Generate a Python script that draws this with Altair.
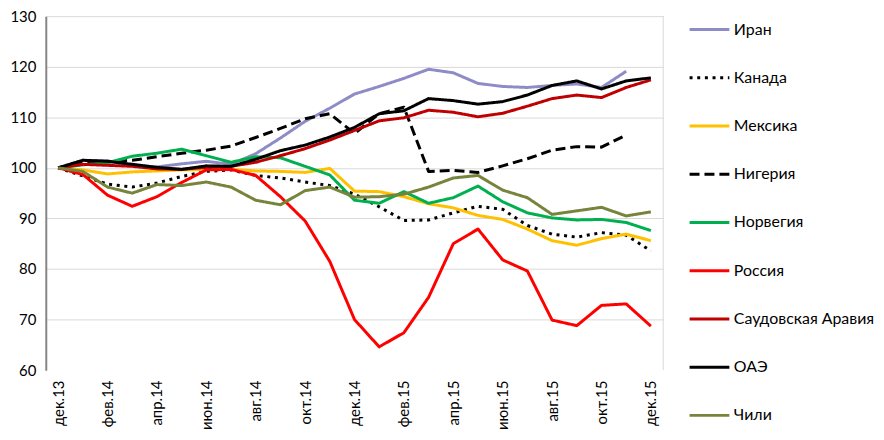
import altair as alt
import pandas as pd

months = ["дек.13", "янв.14", "фев.14", "мар.14", "апр.14", "май.14", "июн.14",
          "июл.14", "авг.14", "сен.14", "окт.14", "ноя.14", "дек.14", "янв.15",
          "фев.15", "мар.15", "апр.15", "май.15", "июн.15", "июл.15", "авг.15",
          "сен.15", "окт.15", "ноя.15", "дек.15"]
tick_labels = ["дек.13", "фев.14", "апр.14", "июн.14", "авг.14", "окт.14", "дек.14",
               "фев.15", "апр.15", "июн.15", "авг.15", "окт.15", "дек.15"]

series = ["Иран", "Канада", "Мексика", "Нигерия", "Норвегия", "Россия",
          "Саудовская Аравия", "ОАЭ", "Чили"]

iran = [100, 101.5, 101.4, 100.5, 100.2, 100.8, 101.3, 100.7, 102.8, 105.9, 109.2, 111.8,
        114.6, 116.1, 117.7, 119.5, 118.8, 116.7, 116.1, 115.9, 116.3, 116.6, 115.9, 119.1, None]
canada = [100, 98.4, 96.8, 96.2, 97.0, 98.3, 99.3, 99.6, 98.5, 98.0, 97.2, 96.5,
          94.8, 92.3, 89.6, 89.7, 91.1, 92.4, 91.8, 88.6, 86.9, 86.3, 87.2, 86.7, 83.6]
mexico = [100, 99.6, 98.8, 99.2, 99.4, 99.6, 99.7, 99.7, 99.4, 99.3, 99.1, 99.9,
          95.4, 95.3, 94.3, 92.9, 92.1, 90.6, 89.8, 87.9, 85.6, 84.7, 86.0, 86.9, 85.6]
nigeria = [100, 101.1, 101.2, 101.5, 102.2, 102.9, 103.5, 104.3, 106.0, 107.8, 109.7, 110.7,
           106.8, 110.7, 112.0, 99.3, 99.5, 99.1, 100.4, 101.8, 103.5, 104.2, 104.1, 106.5, None]
norway = [100, 100.6, 101.0, 102.3, 102.9, 103.7, 102.4, 101.1, 102.2, 102.0, 100.3, 98.6,
          93.6, 93.0, 95.3, 93.0, 94.1, 96.4, 93.3, 91.1, 90.1, 89.7, 89.8, 89.2, 87.6]
russia = [100, 98.7, 94.6, 92.4, 94.3, 97.1, 99.6, 99.7, 98.5, 94.3, 89.5, 81.5,
          70.0, 64.6, 67.4, 74.4, 85.0, 87.9, 81.8, 79.6, 69.9, 68.8, 72.8, 73.1, 68.7]
saudi = [100, 100.7, 100.5, 100.3, 99.8, 99.7, 100.1, 100.3, 101.1, 102.4, 103.8, 105.5,
         107.4, 109.3, 109.9, 111.4, 111.0, 110.1, 110.8, 112.2, 113.7, 114.4, 113.9, 115.9, 117.4]
uae = [100, 101.5, 101.3, 100.7, 100.1, 99.7, 100.4, 100.3, 101.7, 103.4, 104.5, 106.1,
       108.0, 110.7, 111.3, 113.7, 113.3, 112.6, 113.1, 114.4, 116.3, 117.2, 115.6, 117.2, 117.8]
chile = [100, 99.3, 96.2, 95.0, 96.7, 96.5, 97.2, 96.2, 93.6, 92.7, 95.5, 96.2,
         94.2, 94.3, 94.8, 96.2, 98.0, 98.5, 95.6, 94.1, 90.8, 91.5, 92.2, 90.5, 91.3]

values = [iran, canada, mexico, nigeria, norway, russia, saudi, uae, chile]
colors = ["#8E8CC6", "#000000", "#FFC000", "#000000", "#00B050", "#FF0000",
          "#C00000", "#000000", "#76843C"]
dashes = [[1, 0], [3, 4.7], [1, 0], [10, 5], [1, 0], [1, 0], [1, 0], [1, 0], [1, 0]]

rows = []
for s, vals in zip(series, values):
    for m, v in zip(months, vals):
        if v is not None:
            rows.append({"month": m, "series": s, "value": v})
df = pd.DataFrame(rows)

W, H = 621, 356

x_enc = alt.X("month:O", sort=months, title=None,
              axis=alt.Axis(values=tick_labels, labelAngle=270, ticks=False, tickSize=0,
                            domain=False, grid=False, labelPadding=10,
                            labelFontSize=15, labelColor="#000000"))
y_enc = alt.Y("value:Q", title=None,
              scale=alt.Scale(domain=[60, 130], nice=False, zero=False),
              axis=alt.Axis(values=[60, 70, 80, 90, 100, 110, 120, 130], ticks=False, tickSize=0,
                            labelPadding=10, labelFontSize=15, labelColor="#000000",
                            domainColor="#868686", domainWidth=2,
                            grid=True, gridWidth=1,
                            gridColor={"condition": {"test": "datum.value === 60", "value": "transparent"},
                                       "value": "#D9D9D9"}))
legend = alt.Legend(title=None, orient="none", legendX=W + 25, legendY=-8)
color_enc = alt.Color("series:N", scale=alt.Scale(domain=series, range=colors), legend=legend)
dash_enc = alt.StrokeDash("series:N", scale=alt.Scale(domain=series, range=dashes), legend=legend)

base = alt.Chart(df).mark_line(strokeWidth=3, strokeJoin="round").encode(
    x=x_enc, y=y_enc, color=color_enc, strokeDash=dash_enc
)

layers = [base.transform_filter(alt.datum.series == s) for s in series]

border = alt.Chart(pd.DataFrame({"k": [0]})).mark_rule(color="#D9D9D9", strokeWidth=1).encode(
    x=alt.value(W), y=alt.value(0), y2=alt.value(H)
)

chart = alt.layer(*layers, border).properties(
    width=W, height=H,
    autosize=alt.AutoSizeParams(type="none"),
    padding={"left": 38, "top": 7, "right": 214, "bottom": 60},
).configure(font="Lato").configure_view(stroke="transparent").configure_legend(
    padding=0, symbolType="stroke", symbolSize=1600,
    symbolStrokeWidth=3, labelFontSize=16, labelColor="#000000", labelFont="Lato",
    rowPadding=18.5, labelOffset=3, labelLimit=220
).configure_axis(labelFont="Lato")

chart.save("out.html", embed_options={"renderer": "svg", "actions": False})
